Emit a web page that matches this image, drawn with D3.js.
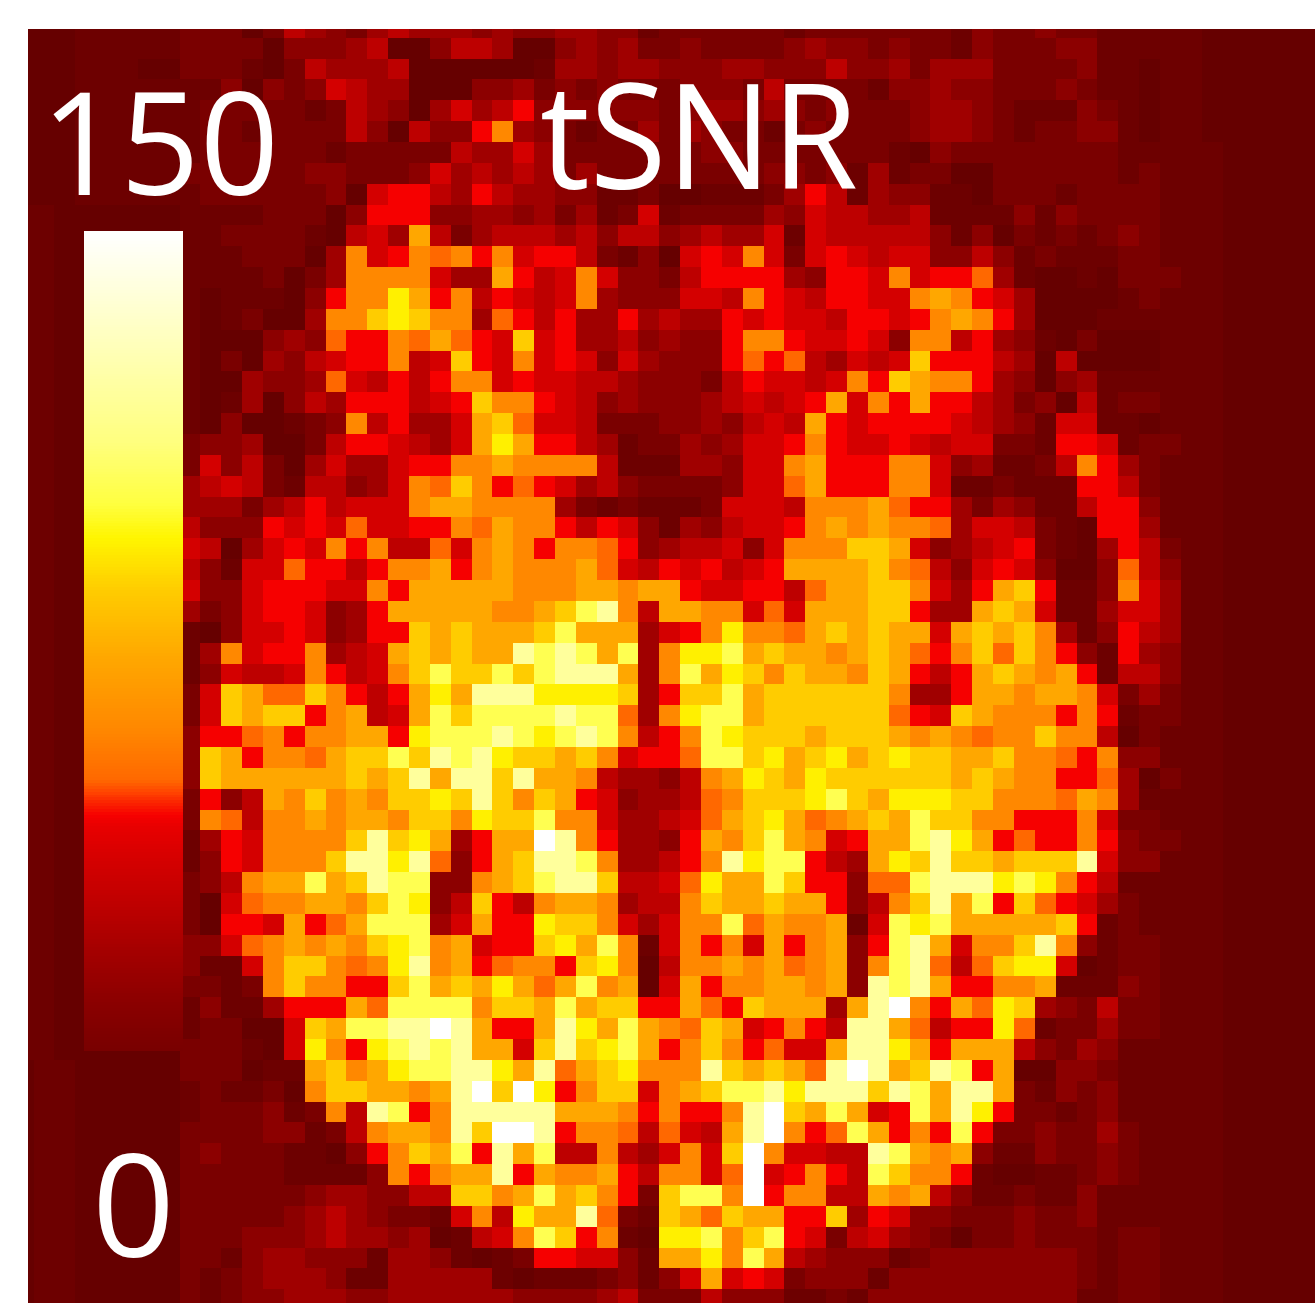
<!DOCTYPE html>
<html>
<head>
<meta charset="utf-8">
<title>tSNR</title>
<script src="https://cdn.jsdelivr.net/npm/d3@7"></script>
<style>
  html, body { margin: 0; padding: 0; background: #fff; }
  svg { display: block; }
</style>
</head>
<body>
<div class="chart"></div>
<script>
/* tSNR: one character per voxel, a hex index into levelValues */
const levelValues = [0, 3, 9, 17, 24, 33, 41, 49, 55, 64, 76, 88, 96, 106, 122, 150];
const tsnrRows = [
"00011111" + "2220254324544" + "43433443312222221222" + "22221322322111" + "11000000",
"00011111" + "2222033345003" + "55400343422322223433" + "23221322233111" + "11000000",
"00011100" + "2221025444500" + "00001443443334433353" + "34244422223110" + "11000000",
"00011111" + "1130323654400" + "03342323222333252222" + "13343322232110" + "11000000",
"00011111" + "1222221254304" + "64573333332344343232" + "22344321113210" + "11000000",
"00011111" + "1221222253053" + "37943212242432212322" + "22344321223310" + "11000000",
"00011111" + "1222222122222" + "54464222222233222222" + "21032222222211" + "11100000",
"00011111" + "2222223322236" + "45454242222222233231" + "41220022222212" + "11100000",
"00011111" + "1222222306775" + "47544331120011124751" + "43311022212222" + "11100000",
"11000000" + "1111222037773" + "34434241261222243655" + "44511113132222" + "11100000",
"11000000" + "11222210564a5" + "24555453553454461655" + "55531302121232" + "11100000",
"11000000" + "1112220496798" + "97967752130676962676" + "56633531211122" + "11100000",
"11000000" + "1111202499996" + "44a75696332577774377" + "69677841001022" + "21100000",
"11000000" + "1011103799ca7" + "95765694333665976577" + "669a9764000012" + "11100000",
"11000000" + "101200499bcb9" + "94875744745447676657" + "7679a974000111" + "11100000",
"11000000" + "100034387798a" + "876b6744534337997667" + "63995743102000" + "11100000",
"11000000" + "1020435677956" + "b7696763643337878546" + "56b77754050000" + "11100000",
"11000000" + "1004334865757" + "99676655433325766569" + "7ba99743034111" + "11100000",
"11000000" + "1014035477756" + "7b9976534333456567a6" + "97a77542305122" + "11100000",
"11000000" + "1030012395744" + "6ab86652223343565a76" + "77776543166110" + "11100000",
"11000000" + "2334002577654" + "6aca7754122434667976" + "67656622177612" + "21100000",
"11000000" + "2635204644677" + "99a99995111443669a77" + "79963411259742" + "11100000",
"11000000" + "4565215534698" + "b9787645322223668a77" + "79961121117752" + "11100000",
"11000000" + "444245756669a" + "a9999421211126665999" + "a8774243115773" + "11100000",
"11000000" + "5333767686677" + "98a997576314356679a9" + "a9984665210774" + "11100000",
"11000000" + "6504676979558" + "69a9799873455636999b" + "ba634567210475" + "21100000",
"11000000" + "531668775799a" + "79a999a865767567aaaa" + "b9853676300385" + "31100000",
"11000000" + "63367776697aa" + "aaa999aa9aa7667758aa" + "bb9647ab711396" + "41100000",
"11000000" + "4236776347aaa" + "aa99abde95aa99686aaa" + "bb744aba611466" + "41100000",
"11000000" + "10366763477ba" + "baaabdaaa4679c998aba" + "baa6abab941375" + "41100000",
"11000000" + "1496779456aba" + "baaededad49ccdabaa9a" + "ba879b8b973174" + "31100000",
"11000000" + "13655697569bd" + "bbdbdeeea49dacb9baa9" + "ba757aba9a7155" + "31100000",
"11000000" + "26ba88b9757ac" + "aeeeccccb47bbdabbbbb" + "b9447aa9aa9624" + "21100000",
"11000000" + "26babb79a56ad" + "bddddedd849cddabbbbb" + "b876ba99979712" + "21100000",
"11000000" + "37789799aa7cd" + "ddedcded9579dcbbbabb" + "ba9a9899b99502" + "11100000",
"11000000" + "3ba7998abbdbe" + "decbbab96778ddbcabca" + "bcbbaab9987933" + "11100000",
"11000000" + "3baaaaaababea" + "eebeaa9544359acbacbb" + "bbbbaba9977840" + "21100000",
"11000000" + "2735a9b9a9bbc" + "beb9ba76344589bbbcdb" + "acccbb9998a941" + "11100000",
"11000000" + "298599a9aa9bb" + "9cbbd99644568abca89a" + "badbb997779622" + "11100000",
"11000000" + "14769999bebca" + "47aafe974437a9bda967" + "aadeca78779732" + "21100000",
"11000000" + "1376999beece8" + "37abeed944579ecdd754" + "acbebbabbbe633" + "11100000",
"11000000" + "2359aadabedd3" + "39abdeeb5568caadb773" + "88deeecdc97511" + "11100000",
"11000000" + "206899aa9bdc3" + "5b759aa94559baabaa73" + "59bead7b876421" + "11100000",
"11000000" + "20776a78addd4" + "6a77cbb964699d8a99a1" + "6dcdaaaaab7121" + "11100000",
"11000000" + "33689a9a9bcd9" + "a677bcad9169796a79a3" + "7dea699be93122" + "11100000",
"11000000" + "31169bb989ce9" + "a78997bc90599a9a89a3" + "9de858bcc60122" + "11100000",
"11000000" + "22129b9977bda" + "baca8ad9a06a799aa9a3" + "edea7799a11132" + "11100000",
"11000000" + "13114777a8ddd" + "d9bbadabb77a87baaa4a" + "ef97a8cb432522" + "11100000",
"11000000" + "122006baddeef" + "ea77aecada98ba67975e" + "ea8577c8122422" + "11100000",
"11000000" + "222106c97cded" + "eaa6bebcda79b97866ae" + "eca7aaa5324311" + "11100000",
"01100000" + "222011ab9acdd" + "eecae8abc999ebaba8ef" + "eabed7a0033211" + "11100000",
"01100000" + "1211209bbaa9a" + "efbfc79bb69abddeceee" + "bedaeea2132311" + "11100000",
"01100000" + "122231295ed79" + "eeeeeaaa979779efbada" + "67daec72212311" + "11100000",
"01100000" + "2222331259aa9" + "ebffe79985865aef978d" + "a797d722322421" + "11100000",
"01100000" + "23222110379ba" + "d7ead55954696bf96655" + "eda9a311322321" + "11100000",
"01100000" + "2222211113979" + "aae7a99a759968f67975" + "db997100112321" + "11100000",
"01100000" + "2222223443355" + "bb9adab972bdd9f79955" + "a9a53112113111" + "11100000",
"01100000" + "2222234543221" + "695caae821ba8baa77b4" + "76332223223111" + "11100000",
"01100000" + "2223334544340" + "1569db7910ccd9bd7625" + "64320223222122" + "11100000",
"01100000" + "2213443331443" + "1012776631aac9da5433" + "31233333332122" + "11100000",
"01100000" + "2123444311444" + "441011123136a6762333" + "13333333332122" + "11100000",
"01100000" + "2123344433444" + "44433334522253331121" + "33333333331122" + "11100000"
];

/* colour map stops, tSNR value -> colour */
const colorValues = [0, 8, 17, 26, 34, 41, 47, 49, 53, 55, 64, 76.5, 88, 97, 103, 114, 150];
const colorRange = ["#660000", "#780000", "#8c0000", "#a60000", "#c00000", "#d40000", "#e80000", "#f60000",
                    "#ff4400", "#ff6800", "#ff8800", "#ffa800", "#ffcc00", "#fff500", "#ffff40", "#ffff80", "#ffffff"];

const barMax = 150;
const barMin = 8.3;
const barLabels = ["150", "0"];
const titleText = "tSNR";

const w = 1315;
const h = 1303;
const imgLeft = 28;
const imgTop = 29;
const cell = 20.86;

const nCols = tsnrRows[0].length;
const nRows = tsnrRows.length;

/* the grid is cropped by the frame, so the first band sticks out to the left and top */
const xScale = d3.scaleBand()
                 .domain(d3.range(nCols))
                 .range([33.5 - cell, 33.5 - cell + nCols * cell]);
const yScale = d3.scaleBand()
                 .domain(d3.range(nRows))
                 .range([37.7 - cell, 37.7 - cell + nRows * cell]);
const color = d3.scaleLinear().domain(colorValues).range(colorRange);
const barScale = d3.scaleLinear().domain([0, 150]).range([1098, 233]);

const svg = d3.select(".chart")
              .append("svg")
              .attr("width", w)
              .attr("height", h);

svg.append("clipPath")
   .attr("id", "frame")
   .append("rect")
   .attr("x", imgLeft)
   .attr("y", imgTop)
   .attr("width", w - imgLeft)
   .attr("height", h - imgTop);

/* voxels */
const cells = [];
tsnrRows.forEach((row, r) => {
  row.split("").forEach((ch, c) => {
    cells.push({ r: r, c: c, v: levelValues[parseInt(ch, 16)] });
  });
});

svg.append("g")
   .attr("clip-path", "url(#frame)")
   .attr("shape-rendering", "crispEdges")
   .selectAll("rect")
   .data(cells)
   .enter()
   .append("rect")
   .attr("x", (d) => xScale(d.c))
   .attr("y", (d) => yScale(d.r))
   .attr("width", xScale.bandwidth() + 0.5)
   .attr("height", yScale.bandwidth() + 0.5)
   .attr("fill", (d) => color(d.v));

/* colour bar */
const barSteps = d3.range(barMin, barMax, 0.5);
svg.append("g")
   .attr("shape-rendering", "crispEdges")
   .selectAll("rect")
   .data(barSteps)
   .enter()
   .append("rect")
   .attr("x", 84)
   .attr("y", (d) => barScale(d + 0.5))
   .attr("width", 99)
   .attr("height", (d) => barScale(d) - barScale(d + 0.5) + 1)
   .attr("fill", (d) => color(d));

/* labels */
const labelFont = "'Open Sans', sans-serif";
const addLabel = (text, x, y, size, len) => {
  svg.append("text")
     .attr("x", x)
     .attr("y", y)
     .attr("fill", "#fff")
     .attr("font-family", labelFont)
     .attr("font-size", size)
     .attr("textLength", len)
     .attr("lengthAdjust", "spacingAndGlyphs")
     .text(text);
};

addLabel(barLabels[0], 41, 195, 143, 238);
addLabel(barLabels[1], 92, 1257, 143, 83);
addLabel(titleText, 540, 189, 146, 318);
</script>
</body>
</html>
